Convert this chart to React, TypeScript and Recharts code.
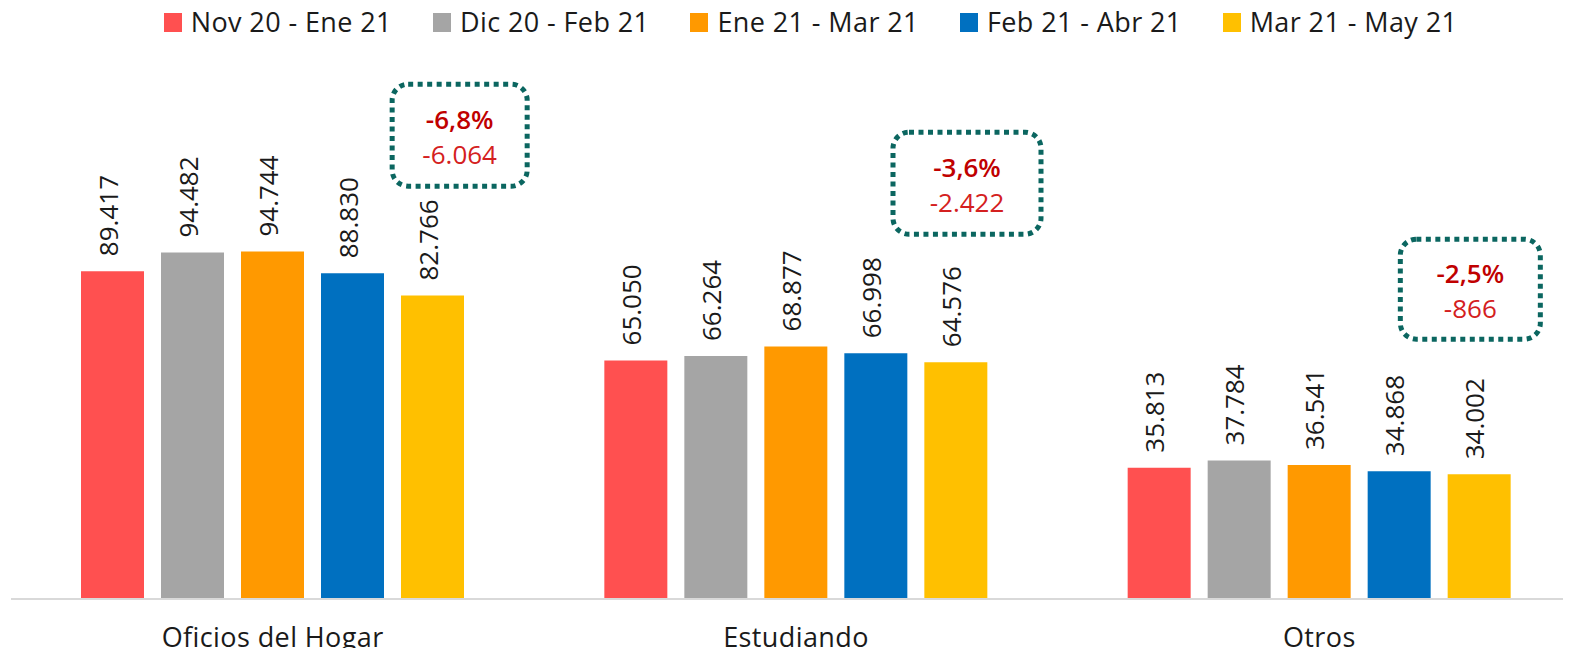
import React from 'react';
import { BarChart, Bar, XAxis, YAxis, Legend, LabelList, ReferenceDot } from 'recharts';

const categories = ['Oficios del Hogar', 'Estudiando', 'Otros'];
const seriesNames = ['Nov 20 - Ene 21', 'Dic 20 - Feb 21', 'Ene 21 - Mar 21', 'Feb 21 - Abr 21', 'Mar 21 - May 21'];
const novEne = [89417, 65050, 35813];
const dicFeb = [94482, 66264, 37784];
const eneMar = [94744, 68877, 36541];
const febAbr = [88830, 66998, 34868];
const marMay = [82766, 64576, 34002];
const changePct = ['-6,8%', '-3,6%', '-2,5%'];
const changeAbs = ['-6.064', '-2.422', '-866'];
const annotationLevel = [126500, 113400, 84500];

const seriesKeys = ['s0', 's1', 's2', 's3', 's4'];
const seriesValues = [novEne, dicFeb, eneMar, febAbr, marMay];
const colors = ['#FF5050', '#A5A5A5', '#FF9900', '#0070C0', '#FFC000'];

// annotation box layout (offset from category centre, box size)
const boxLayout = [
  { dx: 187, w: 135, h: 102 },
  { dx: 171, w: 148, h: 102 },
  { dx: 151, w: 140, h: 100 },
];

const data = categories.map((c, i) => {
  const row: any = { name: c };
  seriesKeys.forEach((k, j) => (row[k] = seriesValues[j][i]));
  return row;
});

const FONT = "'Segoe UI', 'Open Sans', sans-serif";
const fmt = (v: number) => String(v).replace(/\B(?=(\d{3})+(?!\d))/g, '.');

const RotLabel = (props: any) => {
  const { x, y, width, value } = props;
  const cx = Number(x) + Number(width) / 2 - 5;
  const ty = Number(y) - 15;
  return (
    <text
      transform={`translate(${cx},${ty}) rotate(-90)`}
      textAnchor="start"
      dominantBaseline="central"
      fontSize={26}
      fontFamily={FONT}
      fill="#1a1a1a"
    >
      {fmt(value)}
    </text>
  );
};

const makeBox = (i: number) => (props: any) => {
  const { cx, cy } = props;
  const { dx, w, h } = boxLayout[i];
  const bx = cx + dx;
  return (
    <g>
      <rect
        x={bx - w / 2}
        y={cy - h / 2}
        width={w}
        height={h}
        rx={16}
        ry={16}
        fill="none"
        stroke="#0B6660"
        strokeWidth={5}
        strokeDasharray="5 4.5"
      />
      <text x={bx} y={cy - 16} textAnchor="middle" dominantBaseline="central" fontSize={26} fontWeight={600} fontFamily={FONT} fill="#C00000">
        {changePct[i]}
      </text>
      <text x={bx} y={cy + 19} textAnchor="middle" dominantBaseline="central" fontSize={26} fontFamily={FONT} fill="#D42020">
        {changeAbs[i]}
      </text>
    </g>
  );
};

const renderLegend = () => (
  <div
    style={{
      display: 'flex',
      justifyContent: 'center',
      paddingLeft: 50,
      fontSize: 27,
      letterSpacing: 0.4,
      fontFamily: FONT,
      color: '#1a1a1a',
      lineHeight: '36px',
    }}
  >
    {seriesNames.map((n, i) => (
      <div key={n} style={{ display: 'flex', alignItems: 'center', marginRight: i < 4 ? 41 : 0 }}>
        <span style={{ display: 'inline-block', width: 18, height: 19, background: colors[i], marginRight: 9 }} />
        <span>{n}</span>
      </div>
    ))}
  </div>
);

export default function App() {
  return (
    <div style={{ width: 1571, height: 656, overflow: 'hidden', margin: -8, position: 'relative', background: '#fff' }}>
      <BarChart
        width={1600}
        height={656}
        data={data}
        margin={{ top: 13, right: 19, bottom: 0, left: 11 }}
        barGap={17}
        barSize={63}
      >
        <XAxis
          dataKey="name"
          axisLine={{ stroke: '#D9D9D9', strokeWidth: 2 }}
          tickLine={false}
          tickMargin={23}
          height={57}
          tick={{ fontSize: 27, fontFamily: FONT, fill: '#1a1a1a', letterSpacing: 0.4 }}
          interval={0}
        />
        <YAxis hide domain={[0, 150000]} />
        <Legend verticalAlign="top" content={renderLegend} wrapperStyle={{ top: 4, left: 0, width: 1571 }} />
        {seriesKeys.map((k, j) => (
          <Bar key={k} dataKey={k} name={seriesNames[j]} fill={colors[j]} isAnimationActive={false}>
            <LabelList dataKey={k} content={RotLabel} />
          </Bar>
        ))}
        {categories.map((c, i) => (
          <ReferenceDot key={c} x={c} y={annotationLevel[i]} r={0} ifOverflow="visible" shape={makeBox(i)} />
        ))}
      </BarChart>
    </div>
  );
}
